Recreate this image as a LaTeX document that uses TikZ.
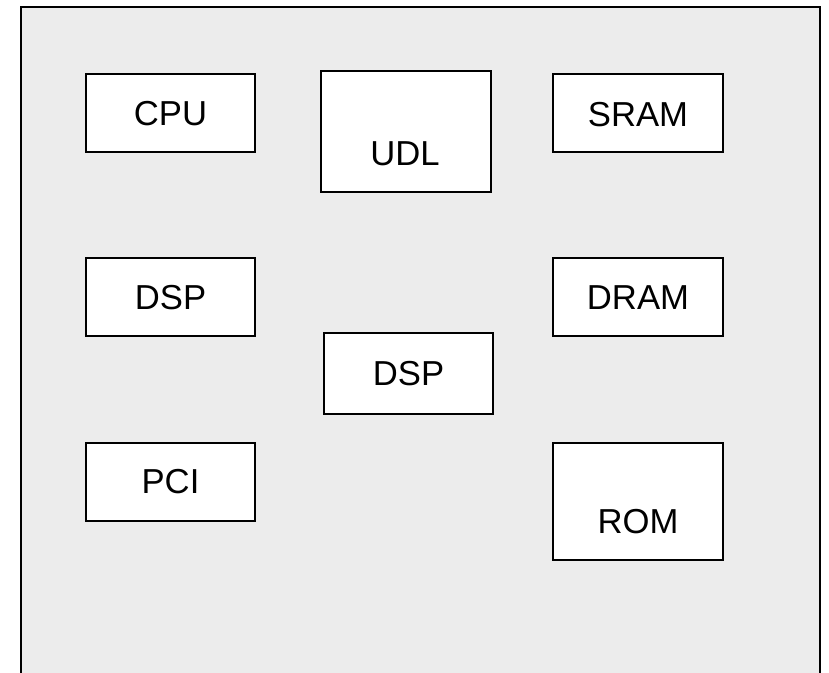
\documentclass[tikz,border=0pt]{standalone}
\usepackage{fontspec}
\setmainfont{Liberation Sans}
\begin{document}
\begin{tikzpicture}[x=0.75pt,y=-0.75pt,
  chip/.style={draw=black,line width=1.7pt,fill=white},
  lbl/.style={inner sep=0pt,font=\fontsize{26pt}{31pt}\selectfont}]
\useasboundingbox (0,0) rectangle (829,672);
\fill[white] (0,0) rectangle (829,672);
\path[fill={rgb,255:red,236;green,236;blue,236},draw=black,line width=1.9pt]
  (21,680) -- (21,7) -- (820,7) -- (820,680);
% boxes
\draw[chip] (86,74) rectangle (255,152);
\draw[chip] (321,71) rectangle (491,192);
\draw[chip] (553,74) rectangle (723,152);
\draw[chip] (86,258) rectangle (255,336);
\draw[chip] (553,258) rectangle (723,336);
\draw[chip] (324,333) rectangle (493,414);
\draw[chip] (86,443) rectangle (255,521);
\draw[chip] (553,443) rectangle (723,560);
% labels
\node[lbl] (cpu) at (170.5,113.5) {CPU};
\node[lbl] (udl) at (405,153.5) {UDL};
\node[lbl] (sram) at (638,114.5) {SRAM};
\node[lbl] (dspa) at (170.5,297.5) {DSP};
\node[lbl] (dram) at (638,297.5) {DRAM};
\node[lbl] (dspb) at (408.5,373.5) {DSP};
\node[lbl] (pci) at (170.5,482) {PCI};
\node[lbl] (rom) at (638,522) {ROM};
\end{tikzpicture}
\end{document}
